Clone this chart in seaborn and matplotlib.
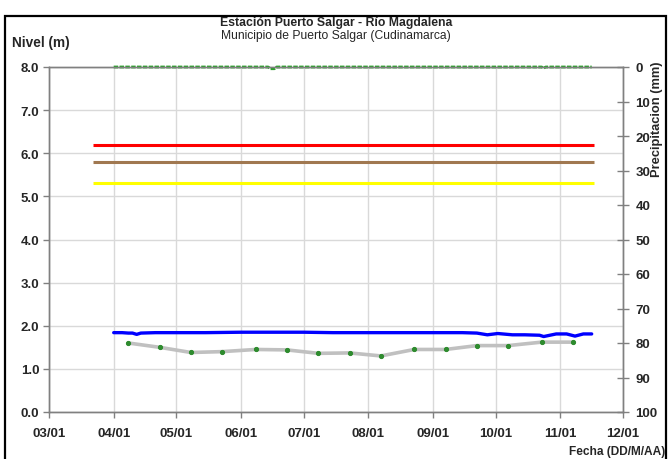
import matplotlib
matplotlib.use("Agg")
import matplotlib.pyplot as plt
import matplotlib.dates as mdates
import matplotlib.font_manager as fm
import pandas as pd
import seaborn as sns
from matplotlib.patches import Rectangle

# ---------------- data ----------------
YEAR = 2021
title = "Estación Puerto Salgar - Río Magdalena"
subtitle = "Municipio de Puerto Salgar (Cudinamarca)"
ylabel_left = "Nivel (m)"
ylabel_right = "Precipitacion (mm)"
xlabel = "Fecha (DD/M/AA)"

month_ticks = ["03-01", "04-01", "05-01", "06-01", "07-01",
               "08-01", "09-01", "10-01", "11-01", "12-01"]

level_dates = ["04-01", "04-05", "04-08", "04-10", "04-12", "04-14", "04-21",
               "05-01", "05-15", "06-01", "06-15", "07-01", "07-15", "08-01",
               "08-15", "09-01", "09-15", "09-22", "09-27", "10-02", "10-09",
               "10-15", "10-22", "10-24", "10-30", "11-04", "11-08", "11-12",
               "11-16"]
level_values = [1.84, 1.84, 1.83, 1.83, 1.80, 1.83, 1.84,
                1.84, 1.84, 1.85, 1.85, 1.85, 1.84, 1.84,
                1.84, 1.84, 1.84, 1.83, 1.79, 1.82, 1.79,
                1.79, 1.78, 1.75, 1.81, 1.81, 1.76, 1.81,
                1.81]

gauge_dates = ["04-08", "04-23", "05-08", "05-23", "06-08", "06-23", "07-08",
               "07-23", "08-07", "08-23", "09-07", "09-22", "10-07", "10-23",
               "11-07"]
gauge_values = [1.60, 1.50, 1.38, 1.40, 1.45, 1.44, 1.36,
                1.37, 1.30, 1.45, 1.45, 1.54, 1.54, 1.62, 1.62]

precip_dates = ["04-01", "06-14", "06-15", "06-17", "06-18",
                "10-23", "10-24", "10-25", "11-16"]
precip_values = [0.0, 0.0, 0.5, 0.5, 0.0, 0.0, 0.3, 0.0, 0.0]

threshold_dates = ["03-22", "11-17"]
threshold_red = 6.2
threshold_brown = 5.8
threshold_yellow = 5.3


def to_dates(lst):
    return pd.to_datetime([f"{YEAR}-{d}" for d in lst])


# ---------------- style ----------------
sns.set_theme(style="white")
names = {f.name for f in fm.fontManager.ttflist}
base = "Liberation Sans" if "Liberation Sans" in names else "DejaVu Sans"
plt.rcParams['font.family'] = [base, 'DejaVu Sans']

GRAY = "#808080"
GRID = "#d9d9d9"

fig = plt.figure(figsize=(6.69, 4.60), dpi=100)
fig.patch.set_facecolor("white")
ax = fig.add_axes([49 / 669, 1 - 413 / 460, (623 - 49) / 669, (413 - 68) / 460])
ax.set_facecolor("white")

# threshold lines
td = to_dates(threshold_dates)
for val, col in [(threshold_red, "#ff0000"), (threshold_brown, "#a07850"),
                 (threshold_yellow, "#ffff00")]:
    sns.lineplot(x=td, y=[val, val], ax=ax, color=col, lw=2.2,
                 solid_capstyle="butt")

# level (blue)
sns.lineplot(x=to_dates(level_dates), y=level_values, ax=ax, color="#0000ff",
             lw=2.4)

# gauge readings (gray with green markers)
sns.lineplot(x=to_dates(gauge_dates), y=gauge_values, ax=ax, color="#c0c0c0",
             lw=2.6, marker="o", markersize=3.0, markerfacecolor="#2e8b2e",
             markeredgecolor="#2e8b2e")

ax.set_ylim(0, 8)
ax.set_yticks(range(0, 9))
ax.set_yticklabels([f"{v:.1f}" for v in range(0, 9)])
mt = to_dates(month_ticks)
ax.set_xlim(mt[0], mt[-1])
ax.set_xticks(mt)
ax.xaxis.set_major_formatter(mdates.DateFormatter("%m/%d"))
ax.grid(True, color=GRID, lw=1)
ax.set_axisbelow(True)
ax.set_xlabel("")
ax.set_ylabel("")

for s in ax.spines.values():
    s.set_color(GRAY)
    s.set_linewidth(1)

ax.tick_params(axis="y", direction="out", length=4, width=1, color=GRAY,
               labelsize=9.5, pad=3, left=True)
ax.tick_params(axis="x", direction="out", length=4, width=1, color=GRAY,
               labelsize=9.5, pad=7, bottom=True)
for lab in ax.get_xticklabels() + ax.get_yticklabels():
    lab.set_fontweight("bold")

# precipitation (right axis, inverted)
ax2 = ax.twinx()
sns.lineplot(x=to_dates(precip_dates), y=precip_values, ax=ax2,
             color="#2ca02c", lw=2.0, linestyle=(0, (1.6, 0.5)), clip_on=False)
ax2.set_ylim(100, 0)
ax2.set_yticks(range(0, 101, 10))
ax2.set_ylabel("")
ax2.grid(False)
for s in ax2.spines.values():
    s.set_color(GRAY)
    s.set_linewidth(1)
ax2.tick_params(axis="y", direction="inout", length=8, width=1, color=GRAY,
                labelsize=9.5, pad=5, right=True)
for lab in ax2.get_yticklabels():
    lab.set_fontweight("bold")
ax2.set_xlim(mt[0], mt[-1])

# texts
fig.text(336 / 669, 1 - 26 / 460, title, ha="center", va="baseline",
         fontsize=8.8, fontweight="bold")
fig.text(336 / 669, 1 - 39 / 460, subtitle, ha="center", va="baseline",
         fontsize=8.7)
fig.text(12 / 669, 1 - 47 / 460, ylabel_left, ha="left", va="baseline",
         fontsize=9.8, fontweight="bold")
fig.text(657 / 669, 1 - 119 / 460, ylabel_right, ha="center", va="center",
         rotation=90, fontsize=9.3, fontweight="bold")
fig.text(665 / 669, 1 - 452 / 460, xlabel, ha="right", va="center",
         fontsize=8.6, fontweight="bold")

# outer frame of the document box
fig.patches.append(Rectangle((5 / 669, -0.1), (666 - 5) / 669, 1.1 - 17 / 460,
                             transform=fig.transFigure, fill=False,
                             edgecolor="black", lw=1.6, zorder=10))

fig.savefig("out.png", dpi=100, facecolor="white")
